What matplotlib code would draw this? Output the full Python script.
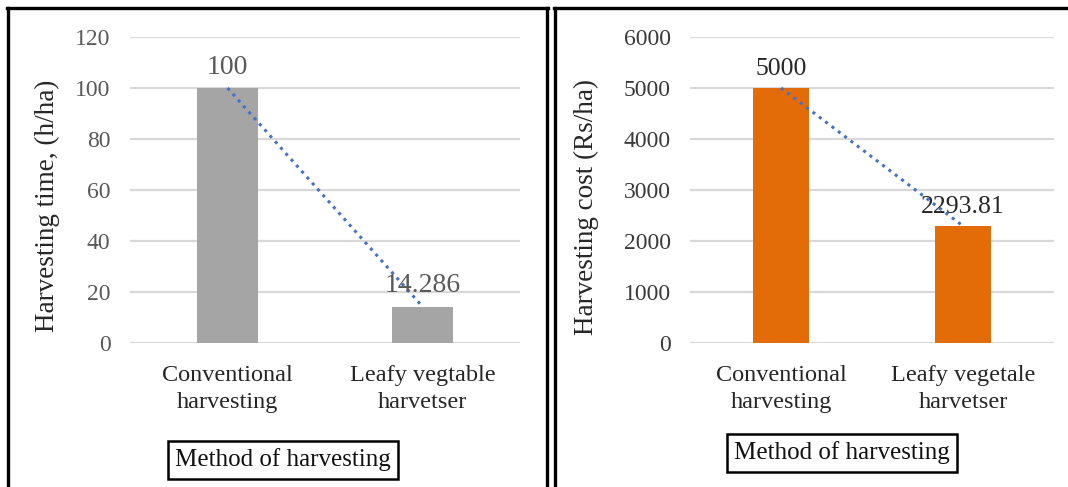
import matplotlib
matplotlib.use("Agg")
import matplotlib.pyplot as plt
from matplotlib.lines import Line2D

plt.rcParams['font.family'] = ['Liberation Serif', 'DejaVu Serif']

# ---- data ----
cats_time = ["Conventional\nharvesting", "Leafy vegtable\nharvetser"]
time_vals = [100, 14.286]
time_labels = ["100", "14.286"]
time_ticks = [0, 20, 40, 60, 80, 100, 120]

cats_cost = ["Conventional\nharvesting", "Leafy vegetale\nharvetser"]
cost_vals = [5000, 2293.81]
cost_labels = ["5000", "2293.81"]
cost_ticks = [0, 1000, 2000, 3000, 4000, 5000, 6000]

W, H = 1068, 487
fig = plt.figure(figsize=(W / 100, H / 100), dpi=100)
fig.patch.set_facecolor('white')


def px_axes(x0, x1, y_top, y_bot):
    return fig.add_axes([x0 / W, 1 - y_bot / H, (x1 - x0) / W, (y_bot - y_top) / H])


def draw(ax, cats, vals, labels, ticks, color, tick_color, lab_color, ylabel, lab_size):
    x = list(range(len(cats)))
    ax.set_axisbelow(True)
    ax.bar(x, vals, width=0.31, color=color, zorder=2)
    ax.plot(x, vals, linestyle=(0, (1, 1.6)), color='#4472C4', lw=2.2, zorder=3)
    ax.set_xlim(-0.5, len(cats) - 0.5)
    ax.set_ylim(ticks[0], ticks[-1])
    ax.set_yticks(ticks)
    ax.yaxis.grid(True, color='#D9D9D9', lw=1.6)
    ax.xaxis.grid(False)
    for s in ax.spines.values():
        s.set_visible(False)
    ax.tick_params(axis='both', length=0)
    ax.tick_params(axis='y', pad=14, labelsize=17, labelcolor=tick_color)
    ax.set_xticks(x)
    ax.set_xticklabels(cats, fontsize=17.5, color='#262626', linespacing=1.35)
    ax.tick_params(axis='x', pad=16)
    for xi, v, t in zip(x, vals, labels):
        ax.annotate(t, (xi, v), xytext=(0, 6), textcoords='offset points',
                    ha='center', va='bottom', fontsize=lab_size, color=lab_color)
    ax.set_ylabel(ylabel, fontsize=19.5, color='#262626')


ax1 = px_axes(130, 520, 37, 343)
draw(ax1, cats_time, time_vals, time_labels, time_ticks, '#A5A5A5', '#595959', '#595959',
     'Harvesting time, (h/ha)', 20)
ax1.yaxis.set_label_coords((60 - 130) / 390, (343 - 206) / 306)

ax2 = px_axes(690, 1054, 37, 343)
draw(ax2, cats_cost, cost_vals, cost_labels, cost_ticks, '#E36C09', '#3A3A3A', '#262626',
     'Harvesting cost (Rs/ha)', 18.5)
ax2.yaxis.set_label_coords((599 - 690) / 364, (343 - 207) / 306)

# axis title boxes
box = dict(boxstyle='square,pad=0.3', fc='white', ec='black', lw=1.8)
fig.text(283 / W, 1 - 460 / H, "Method of harvesting", ha='center', va='center',
         fontsize=18, color='#111111', bbox=box)
fig.text(842 / W, 1 - 453 / H, "Method of harvesting", ha='center', va='center',
         fontsize=18, color='#111111', bbox=box)


# panel borders
def fline(xs, ys):
    fig.add_artist(Line2D([xx / W for xx in xs], [1 - yy / H for yy in ys],
                          color='black', lw=2.4, transform=fig.transFigure))

fline([7.5, 7.5], [H + 5, 8])
fline([6.5, 548], [8, 8])
fline([546.5, 546.5], [8, H + 5])
fline([554.5, 554.5], [H + 5, 8])
fline([553.5, W + 5], [8, 8])

fig.savefig("out.png", dpi=100)
